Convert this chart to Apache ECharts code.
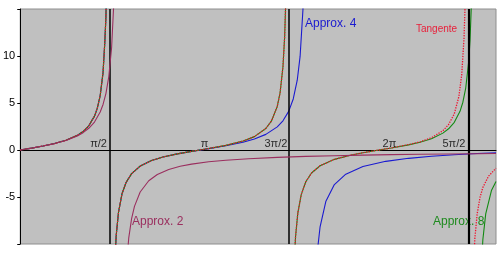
<!DOCTYPE html>
<html>
<head>
<meta charset="utf-8">
<script src="https://cdn.jsdelivr.net/npm/echarts@6/dist/echarts.min.js"></script>
<style>html,body{margin:0;padding:0;background:#fff;}#c{width:500px;height:253px;}</style>
</head>
<body>
<div id="c"></div>
<script>
// ---- data ----
const tanX = [0,0.2,0.4,0.6,0.8,1.0,1.1,1.2,1.3,1.35,1.4,1.45,1.48,1.5,1.52,1.54, 1.5708,
  1.60,1.62,1.65,1.68,1.72,1.78,1.85,1.95,2.1,2.3,2.5,2.75,3.0,3.1416,3.3,3.6,3.9,4.1,4.3,4.4,4.5,4.55,4.6,4.63,4.65,4.68, 4.7124,
  4.74,4.76,4.79,4.82,4.86,4.92,5.0,5.1,5.25,5.5,5.8,6.0,6.2832,6.5,6.8,7.0,7.2,7.4,7.5,7.6,7.68,7.73,7.77,7.79,7.82, 7.854,
  7.88,7.9,7.93,7.96,8.0,8.05,8.1,8.2,8.33];
const tanY = [0,0.203,0.423,0.684,1.030,1.557,1.965,2.572,3.602,4.455,5.798,8.238,11.385,14.10,19.67,32.46, null,
  -34.2,-20.31,-12.60,-9.12,-6.65,-4.71,-3.49,-2.51,-1.71,-1.119,-0.747,-0.413,-0.143,0,0.160,0.493,0.948,1.423,2.285,3.097,4.637,6.105,8.857,12.11,16.0,30.9, null,
  -36.2,-21.0,-12.86,-9.26,-6.72,-4.75,-3.381,-2.449,-1.676,-0.996,-0.525,-0.291,0,0.220,0.568,0.871,1.305,2.049,2.706,3.852,5.688,8.02,11.88,15.6,29.4, null,
  -38.5,-21.7,-13.1,-9.40,-6.80,-5.04,-3.98,-2.775,-1.94];

const approx2X = [0,0.2,0.4,0.6,0.8,1.0,1.1,1.2,1.3,1.4,1.45,1.5,1.55,1.6,1.64,1.68, 1.732,
  1.76,1.8,1.85,1.9,1.95,2.0,2.1,2.25,2.4,2.6,2.8,3.0,3.3,3.6,4.0,4.5,5.0,5.5,6.0,6.5,7.0,7.5,8.0,8.33];
const approx2Y = [0,0.203,0.423,0.682,1.017,1.5,1.844,2.308,2.977,4.038,4.847,6.0,7.782,10.91,15.85,28.4, null,
  -54.1,-22.5,-13.14,-9.34,-7.29,-6.0,-4.468,-3.273,-2.609,-2.074,-1.736,-1.5,-1.255,-1.084,-0.923,-0.783,-0.682,-0.606,-0.545,-0.497,-0.457,-0.423,-0.393,-0.377];

const approx4X = [0,0.2,0.4,0.6,0.8,1.0,1.1,1.2,1.3,1.35,1.4,1.45,1.48,1.5,1.52,1.54, 1.5708,
  1.60,1.62,1.65,1.68,1.72,1.78,1.85,1.95,2.1,2.3,2.5,2.75,3.0,3.1416,3.3,3.6,3.9,4.1,4.3,4.5,4.6,4.7,4.78,4.85,4.9,4.95,5.0, 5.053,
  5.08,5.12,5.16,5.2,5.25,5.35,5.5,5.7,6.0,6.4,6.8,7.2,7.6,8.0,8.33];
const approx4Y = [0,0.203,0.423,0.684,1.030,1.557,1.965,2.572,3.602,4.455,5.798,8.238,11.385,14.10,19.67,32.46, null,
  -34.2,-20.31,-12.60,-9.12,-6.65,-4.71,-3.49,-2.51,-1.71,-1.12,-0.749,-0.415,-0.150,-0.011,0.143,0.451,0.832,1.174,1.663,2.463,3.111,4.112,5.43,7.423,9.955,14.94,29.3, null,
  -58.2,-23.62,-14.88,-10.89,-8.17,-5.48,-3.68,-2.567,-1.754,-1.206,-0.886,-0.669,-0.507,-0.378,-0.289];

const approx8X = [0,0.2,0.4,0.6,0.8,1.0,1.1,1.2,1.3,1.35,1.4,1.45,1.48,1.5,1.52,1.54, 1.5708,
  1.60,1.62,1.65,1.68,1.72,1.78,1.85,1.95,2.1,2.3,2.5,2.75,3.0,3.1416,3.3,3.6,3.9,4.1,4.3,4.4,4.5,4.55,4.6,4.63,4.65,4.68, 4.7124,
  4.74,4.76,4.79,4.82,4.86,4.92,5.0,5.1,5.25,5.5,5.8,6.0,6.2832,6.5,6.8,7.0,7.2,7.4,7.5,7.6,7.7,7.75,7.8,7.85,7.875,7.9,7.925,7.95, 7.975,
  8.0,8.03,8.06,8.1,8.15,8.25,8.33];
const approx8Y = [0,0.203,0.423,0.684,1.030,1.557,1.965,2.572,3.602,4.455,5.798,8.238,11.385,14.10,19.67,32.46, null,
  -34.2,-20.31,-12.60,-9.12,-6.65,-4.71,-3.49,-2.51,-1.71,-1.119,-0.747,-0.413,-0.143,0,0.160,0.493,0.948,1.423,2.285,3.097,4.637,6.105,8.857,12.11,16.0,30.9, null,
  -36.2,-21.0,-12.86,-9.26,-6.72,-4.75,-3.381,-2.449,-1.676,-0.996,-0.525,-0.291,0,0.218,0.543,0.823,1.203,1.795,2.257,2.947,4.117,5.082,6.59,9.29,11.65,15.57,23.38,46.65, null,
  -47.7,-21.63,-13.99,-9.52,-6.80,-4.315,-3.36];

const asymptotes = [1.5708, 4.7124, 7.854];
const xTickValues = [1.5708, 3.1416, 4.7124, 6.2832, 7.854];
const xTickLabels = ['π/2', 'π', '3π/2', '2π', '5π/2'];
const yTickValues = [-5, 0, 5, 10];
const seriesNames = ['Tangente', 'Approx. 2', 'Approx. 4', 'Approx. 8'];

// ---- presentation ----
function pairs(xs, ys) { return xs.map((x, i) => [x, ys[i] === null ? '-' : ys[i]]); }
const tickAlign = ['right', 'left', 'right', 'left', 'right'];
const tickDx = [-3, 1, -2, 3.5, -3.5];
const FONT = 'Arial, "Liberation Sans", sans-serif';

const chart = echarts.init(document.getElementById('c'), null, {renderer: 'canvas'});
chart.setOption({
  animation: false,
  backgroundColor: '#ffffff',
  grid: {left: 20, top: 9, width: 476, height: 235, show: true, backgroundColor: '#c0c0c0', borderColor: '#8e8e8e', borderWidth: 1},
  xAxis: {
    type: 'value', min: 0, max: 8.33,
    axisLine: {show: true, onZero: true, lineStyle: {color: '#000', width: 1}},
    axisTick: {show: false}, axisLabel: {show: false}, splitLine: {show: false}
  },
  yAxis: {
    type: 'value', min: -10, max: 15, interval: 5,
    axisLine: {show: true, lineStyle: {color: '#000', width: 1}},
    axisTick: {show: true, length: 3, lineStyle: {color: '#000'}},
    axisLabel: {color: '#000', fontSize: 11, fontFamily: FONT, margin: 5,
      formatter: v => yTickValues.indexOf(v) >= 0 ? String(v) : ''},
    splitLine: {show: false}
  },
  series: [
    {
      name: seriesNames[2], type: 'line', showSymbol: false, symbol: 'none', connectNulls: false, clip: true,
      data: pairs(approx4X, approx4Y), lineStyle: {color: '#1a1ad0', width: 1.1}, z: 2,
      markLine: {
        silent: true, symbol: 'none', label: {show: false}, animation: false,
        lineStyle: {color: '#000', width: 1.5, type: 'solid'},
        data: asymptotes.map((v, i) => ({xAxis: v, lineStyle: {color: '#000', width: i === 2 ? 2.2 : 1.5, type: 'solid'}}))
      }
    },
    {
      name: seriesNames[3], type: 'line', showSymbol: false, symbol: 'none', connectNulls: false, clip: true,
      data: pairs(approx8X, approx8Y), lineStyle: {color: '#128a12', width: 1.1}, z: 3
    },
    {
      name: seriesNames[0], type: 'line', showSymbol: false, symbol: 'none', connectNulls: false, clip: true,
      data: pairs(tanX, tanY),
      lineStyle: {color: '#f0102c', width: 1.3, type: 'dotted'}, z: 4
    },
    {
      name: seriesNames[1], type: 'line', showSymbol: false, symbol: 'none', connectNulls: false, clip: true,
      data: pairs(approx2X, approx2Y), lineStyle: {color: '#9a2e5e', width: 1.1}, z: 5
    },
    {
      name: 'ticks', type: 'scatter', symbolSize: 1, itemStyle: {color: 'rgba(0,0,0,0)'}, silent: true, z: 6,
      data: xTickValues.map((v, i) => ({
        value: [v, 0],
        label: {show: true, formatter: xTickLabels[i], position: 'top', distance: 0, align: tickAlign[i],
          offset: [tickDx[i], 0], color: '#000', fontSize: 11, lineHeight: 12, fontFamily: FONT}
      }))
    }
  ],
  graphic: [
    {type: 'text', left: 305, top: 18, style: {text: seriesNames[2], fill: '#1a1ad0', font: '12px ' + FONT}},
    {type: 'text', left: 416, top: 24, style: {text: seriesNames[0], fill: '#e8203a', font: '10px ' + FONT}},
    {type: 'text', left: 132, top: 216, style: {text: seriesNames[1], fill: '#9a2e5e', font: '12px ' + FONT}},
    {type: 'text', left: 433, top: 216, style: {text: seriesNames[3], fill: '#1e8a1e', font: '12px ' + FONT}}
  ]
});
</script>
</body>
</html>
